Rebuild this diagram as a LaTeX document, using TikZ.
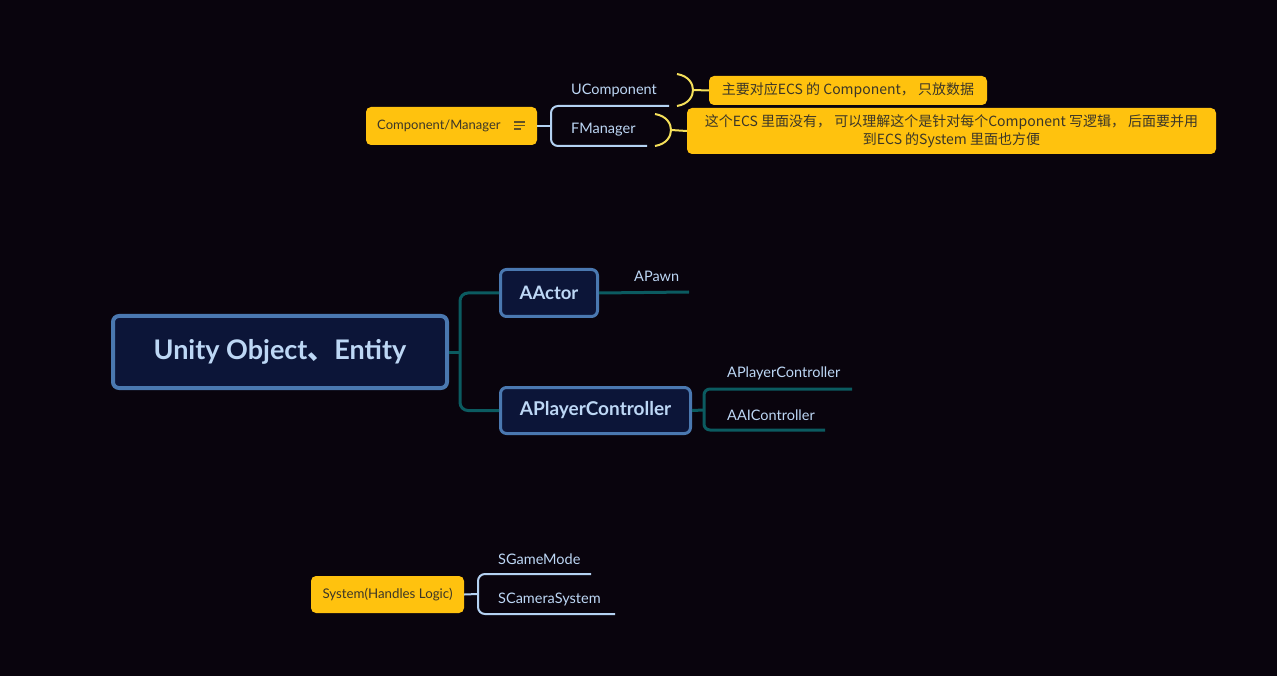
\documentclass[tikz,border=0pt]{standalone}
\usepackage{fontspec}
\setmainfont{Lato}
\newfontfamily\cjk{Noto Sans CJK SC}
\usetikzlibrary{positioning}
\definecolor{bgdark}{HTML}{09040D}
\definecolor{notey}{HTML}{FFC20E}
\definecolor{notetext}{HTML}{3B3628}
\definecolor{boxfill}{HTML}{0C1538}
\definecolor{boxedge}{HTML}{4A78B0}
\definecolor{boxtext}{HTML}{BDD7F5}
\definecolor{tealline}{HTML}{0B5B60}
\definecolor{paleline}{HTML}{B4D2F2}
\definecolor{brack}{HTML}{F5E05A}
\tikzset{
  topicbox/.style={draw=boxedge, fill=boxfill, line width=3pt, rounded corners=6pt, text=boxtext, inner sep=0pt},
  notebox/.style={fill=notey, rounded corners=5pt, text=notetext, inner sep=0pt},
  leaf/.style={text=boxtext, inner sep=0pt, anchor=west, font=\fontsize{14.5}{17}\selectfont},
  tealedge/.style={draw=tealline, line width=3pt},
  pale/.style={draw=paleline, line width=2pt},
  brackline/.style={draw=brack, line width=2pt},
}
\begin{document}
\begin{tikzpicture}[x=1pt,y=-1pt]
\fill[bgdark] (0,0) rectangle (1277,676);
\useasboundingbox (0,0) rectangle (1277,676);

\node[topicbox, line width=4pt, minimum width=334, minimum height=72, font=\fontsize{27}{34}\selectfont\bfseries] (root) at (280,352) {Unity Object{\cjk 、}Entity};
\node[topicbox, minimum width=97, minimum height=47, font=\fontsize{18.5}{22}\selectfont\bfseries] (aactor) at (549,293) {AActor};
\node[topicbox, minimum width=190, minimum height=46, font=\fontsize{19}{22}\selectfont\bfseries] (apc) at (595.5,410.5) {APlayerController};

\coordinate (rootj) at (460,352);
\draw[tealedge] (root.east) -- (rootj);
\draw[tealedge, rounded corners=8pt] (aactor.west) -| (rootj) |- (apc.west);

\node[leaf] (apawn) at (634,276) {APawn};
\coordinate (apawnend) at (689,292);
\draw[tealedge] (aactor.east) -- (apawnend);

\node[leaf] (aplayer) at (727,373) {APlayerController};
\node[leaf] (aai) at (727,415) {AAIController};
\coordinate (apcj) at (704,410);
\coordinate (aplayerend) at (852,389);
\coordinate (aaiend) at (825,430);
\draw[tealedge] (apc.east) -- (apcj);
\draw[tealedge, rounded corners=6pt] (aplayerend) -| (apcj) |- (aaiend);

\node[notebox, minimum width=171, minimum height=38] (cm) at (451.5,126) {};
\node[text=notetext, inner sep=0pt, anchor=west, font=\fontsize{13}{15}\selectfont] (cmtext) at (377,126) {Component/Manager};
\draw[notetext!80!notey, line width=1.1pt] (514,122) -- (525,122) (514,125.5) -- (525,125.5) (514,129) -- (521,129);

\node[leaf] (ucomp) at (571,90) {UComponent};
\node[leaf] (fman) at (571,130) {FManager};
\coordinate (cmj) at (551,126);
\coordinate (ucend) at (669,106);
\coordinate (fmend) at (647,146);
\draw[pale] (cm.east) -- (cmj);
\draw[pale, rounded corners=7pt] (ucend) -| (cmj) |- (fmend);

\node[notebox, minimum width=278, minimum height=29, font=\cjk\fontsize{14}{17}\selectfont] (ucnote) at (848,90.5) {主要对应ECS 的 Component， 只放数据};
\node[notebox, minimum width=529, minimum height=46, align=center, font=\cjk\fontsize{14}{18}\selectfont] (fmnote) at (951.5,131) {这个ECS 里面没有， 可以理解这个是针对每个Component 写逻辑， 后面要并用\\到ECS 的System 里面也方便};

\coordinate (br1) at (693,90);
\draw[brackline] (677,74) .. controls (689,76) and (693,84) .. (br1) .. controls (693,96) and (689,104) .. (677,106);
\draw[brackline] (br1) -- (ucnote.west);
\coordinate (br2) at (671,130);
\draw[brackline] (655,114) .. controls (667,116) and (671,124) .. (br2) .. controls (671,136) and (667,144) .. (655,146);
\draw[brackline] (br2) -- (fmnote.west);

\node[notebox, minimum width=153, minimum height=37, font=\fontsize{13.3}{15}\selectfont] (sys) at (387.5,594.5) {System(Handles Logic)};
\node[leaf] (sgame) at (498,559) {SGameMode};
\node[leaf] (scam) at (498,599) {SCameraSystem};
\coordinate (sysj) at (478,594);
\coordinate (sgend) at (591,574);
\coordinate (scend) at (615,614);
\draw[pale] (sys.east) -- (sysj);
\draw[pale, rounded corners=7pt] (sgend) -| (sysj) |- (scend);
\end{tikzpicture}
\end{document}
